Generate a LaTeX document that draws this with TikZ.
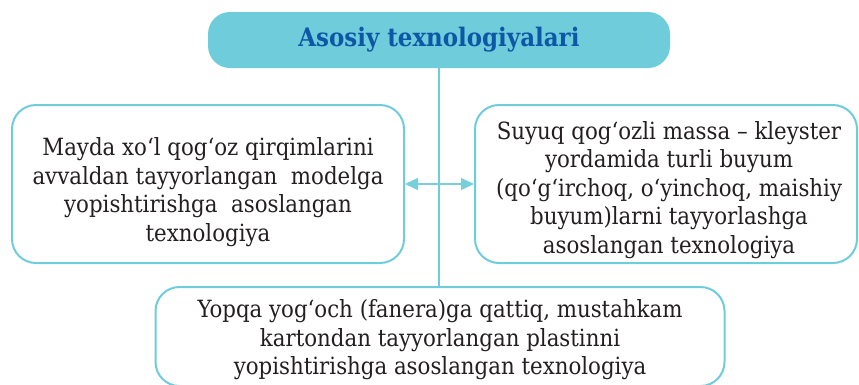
\documentclass[tikz,border=0pt]{standalone}
\usepackage{fontspec}
\setmainfont{DejaVu Serif Condensed}
\usetikzlibrary{arrows.meta}
\definecolor{cyanb}{HTML}{6FCCDA}
\definecolor{titleblue}{HTML}{0D58A6}
\definecolor{txt}{HTML}{231F20}
\definecolor{arrowc}{HTML}{78CFDC}
\tikzset{
  box/.style={draw=cyanb, line width=2pt, rounded corners=24pt, fill=white, inner sep=0pt},
  plain/.style={text=txt, align=center, inner sep=0pt,
    font=\fontsize{23.7}{28.5}\selectfont},
  titlebox/.style={fill=cyanb, rounded corners=22pt, text=titleblue,
    font=\fontsize{25.5}{30}\selectfont\bfseries, inner sep=0pt},
  conn/.style={draw=cyanb, line width=2pt},
  dbl/.style={draw=arrowc, line width=1.2pt, {Triangle[length=13pt,width=12pt]}-{Triangle[length=13pt,width=12pt]}}
}
\begin{document}
\begin{tikzpicture}[x=1pt,y=-1pt]
\useasboundingbox (0,0) rectangle (859,384);
\begin{scope}
\clip (0,0) rectangle (859,384);
\node[titlebox, minimum width=462pt, minimum height=56pt] (top) at (439,40) {Asosiy texnologiyalari};
\coordinate (vb) at (439,288);
\draw[conn] (top.south) -- (vb);
\node[box, minimum width=392pt, minimum height=158pt] (left) at (208,184) {};
\node[plain] (lefttxt) at (208,192)
  {Mayda xo‘l qog‘oz qirqimlarini\\avvaldan tayyorlangan\ \ modelga\\yopishtirishga\ \ asoslangan\\texnologiya};
\node[box, minimum width=382pt, minimum height=158pt] (right) at (666,184) {};
\node[plain] (righttxt) at (669,190)
  {Suyuq qog‘ozli massa – kleyster\\yordamida turli buyum\\(qo‘g‘irchoq, o‘yinchoq, maishiy\\buyum)larni tayyorlashga\\asoslangan texnologiya};
\node[box, minimum width=569pt, minimum height=99pt] (bottom) at (440,336.5) {};
\node[plain] (bottomtxt) at (440,340)
  {Yopqa yog‘och (fanera)ga qattiq, mustahkam\\kartondan tayyorlangan plastinni\\yopishtirishga asoslangan texnologiya};
\draw[dbl] (left.east) -- (right.west);
\end{scope}
\end{tikzpicture}
\end{document}
